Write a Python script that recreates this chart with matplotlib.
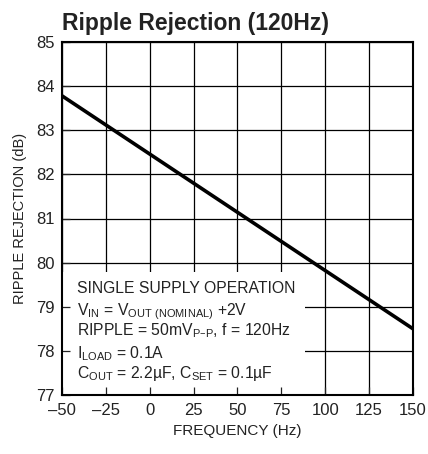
import matplotlib.pyplot as plt
from matplotlib.patches import Rectangle

# data
freq = [-50, 150]
rejection = [83.78, 78.5]
x_ticks = [-50, -25, 0, 25, 50, 75, 100, 125, 150]
y_ticks = [77, 78, 79, 80, 81, 82, 83, 84, 85]
note_lines = [
    "SINGLE SUPPLY OPERATION",
    r"V$_{IN}$ = V$_{OUT\ (NOMINAL)}$ +2V",
    "RIPPLE = 50mV$_{P\u2013P}$, f = 120Hz",
    r"I$_{LOAD}$ = 0.1A",
    r"C$_{OUT}$ = 2.2µF, C$_{SET}$ = 0.1µF",
]

plt.rcParams['font.family'] = ['Liberation Sans', 'DejaVu Sans']
plt.rcParams['mathtext.default'] = 'regular'

fig = plt.figure(figsize=(4.28, 4.54), dpi=100)
ax = fig.add_axes([62 / 428, 1 - 395 / 454, 351 / 428, 353 / 454])

ax.set_xlim(-50, 150)
ax.set_ylim(77, 85)
ax.set_xticks(x_ticks)
ax.set_yticks(y_ticks)
ax.set_xticklabels([str(v).replace('-', '\u2013') for v in x_ticks])
ax.tick_params(direction='in', length=6, width=0.9, labelsize=12, colors='#222222')
ax.tick_params(axis='x', pad=6)
ax.tick_params(axis='y', pad=5)

# grid lines under the note box, tick marks stay on top
for xv in x_ticks:
    ax.axvline(xv, color='black', linewidth=0.9, zorder=0.5)
for yv in y_ticks:
    ax.axhline(yv, color='black', linewidth=0.9, zorder=0.5)
for s in ax.spines.values():
    s.set_linewidth(1.5)
    s.set_zorder(5)

ax.add_patch(Rectangle((-50, 77), 138.5, 2.78, facecolor='white', edgecolor='none', zorder=1))

ax.plot(freq, rejection, color='black', linewidth=2.6, zorder=3)

ax.set_xlabel("FREQUENCY (Hz)", fontsize=11, color='#222222', labelpad=4)
ax.set_ylabel("RIPPLE REJECTION (dB)", fontsize=10.5, color='#222222', labelpad=7)

y_pos = [293, 315, 335, 358, 378]
for txt, yp in zip(note_lines, y_pos):
    fig.text(77 / 428, 1 - yp / 454, txt, fontsize=11.3, color='#222222', va='baseline', zorder=4)

fig.text(62 / 428, 1 - 30 / 454, "Ripple Rejection (120Hz)", fontsize=16.5, fontweight='bold',
         color='#222222', va='baseline')

fig.savefig("out.png", dpi=100)
